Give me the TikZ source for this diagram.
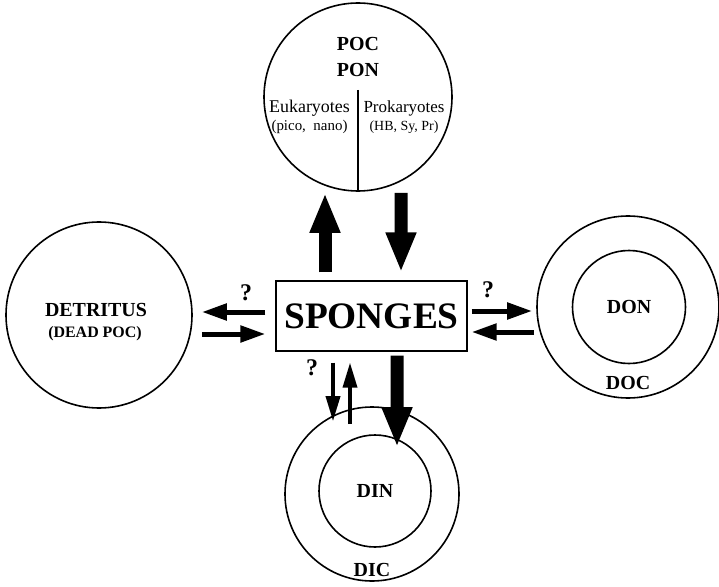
\documentclass[tikz,border=0pt]{standalone}
\usepackage{fontspec}
\setmainfont{Liberation Serif}
\usetikzlibrary{arrows.meta,calc}

\begin{document}
\begin{tikzpicture}[x=1bp,y=-1bp,
  pool/.style={circle,draw,line width=1.6bp,inner sep=0pt},
  lbl/.style={inner sep=0pt,font=\fontsize{20}{22}\selectfont\bfseries},
  taxon/.style={inner sep=0pt,font=\fontsize{17}{18}\selectfont},
  group/.style={inner sep=0pt,font=\fontsize{15}{16}\selectfont},
  query/.style={inner sep=0pt,font=\fontsize{24}{26}\selectfont\bfseries},
  bigflux/.style={line width=13bp,-{Triangle[length=40bp,width=28bp]}},
  flux/.style={line width=5bp,-{Triangle[length=25bp,width=16bp]}},
  thinflux/.style={line width=3.5bp,-{Triangle[length=25bp,width=14bp]}}]
\useasboundingbox (0,0) rectangle (719,587);

\node[draw,line width=1.2bp,minimum width=191bp,minimum height=70bp,inner sep=0pt,
  font=\fontsize{37.5}{40}\selectfont\bfseries] (sponges) at (371.5,316) {SPONGES};

\node[pool,minimum size=188bp] (poc) at (358,97) {};
\node[pool,minimum size=186bp] (detritus) at (99,315) {};
\node[pool,minimum size=182bp] (doc) at (628,307) {};
\node[pool,minimum size=113bp,lbl] (don) at (629,307) {DON};
\node[pool,minimum size=174bp] (dic) at (372,494) {};
\node[pool,minimum size=112bp,lbl] (din) at (375,491) {DIN};

% labels
\node[lbl,align=center,font=\fontsize{20}{26}\selectfont\bfseries] (poctxt) at (358,57) {POC\\PON};
\node[taxon,font=\fontsize{18}{18}\selectfont] (euk) at (309.5,108) {Eukaryotes};
\node[group] (eukgrp) at (309.5,127) {(pico,\ \ nano)};
\node[taxon] (prok) at (404,108) {Prokaryotes};
\node[group,font=\fontsize{14}{16}\selectfont] (prokgrp) at (404,127) {(HB, Sy, Pr)};
\coordinate (split) at (358,90);
\draw[line width=1.6bp] (split) -- (poc.south);

\node[lbl] (dettxt) at (96,310) {DETRITUS};
\node[lbl,font=\fontsize{16}{18}\selectfont\bfseries] (deadpoc) at (95,334) {(DEAD POC)};
\node[lbl] (doctxt) at (628,383) {DOC};
\node[lbl] (dictxt) at (372,570) {DIC};

\node[query] (q1) at (246,293) {?};
\node[query] (q2) at (488,290) {?};
\node[query] (q3) at (312,368) {?};

% fluxes
\draw[bigflux] ($(sponges.north)+(-46.5,-8)$) -- ($(poc.south)+(-33,1)$);
\draw[bigflux] ($(poc.south)+(43,1)$) -- ($(sponges.north)+(29.5,-8)$);
\draw[bigflux] ($(sponges.south)+(25.5,4)$) -- ($(din.north)+(22,13)$);

\draw[flux] ($(sponges.west)+(-10,-4)$) -- ($(detritus.east)+(9,-3)$);
\draw[flux] ($(detritus.east)+(9,19)$) -- ($(sponges.west)+(-10,18)$);
\draw[flux] ($(sponges.east)+(4,-5)$) -- ($(doc.west)+(-4,4)$);
\draw[flux] ($(doc.west)+(-2,25)$) -- ($(sponges.east)+(4,16)$);

\draw[thinflux] ($(sponges.south)+(-38.5,11)$) -- ($(dic.north)+(-39,15)$);
\draw[thinflux] ($(dic.north)+(-22,18)$) -- ($(sponges.south)+(-21.5,11)$);

\end{tikzpicture}
\end{document}
